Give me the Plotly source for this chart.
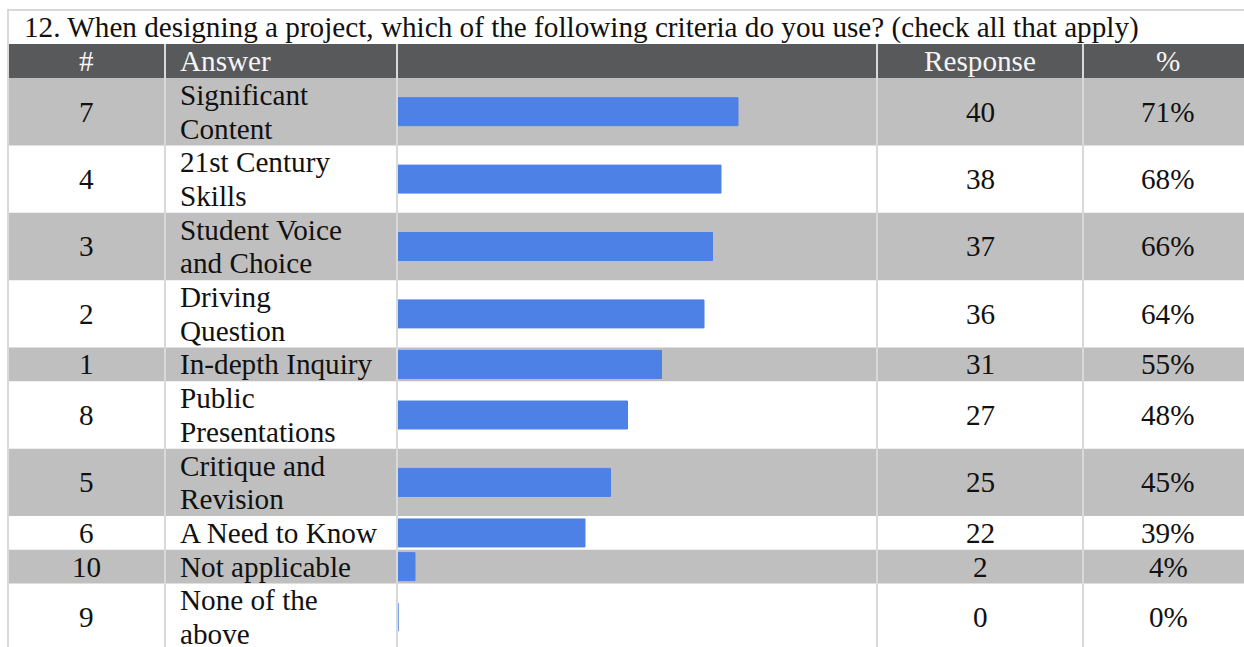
import plotly.graph_objects as go

# ---------------- data ----------------
title_text = "12. When designing a project, which of the following criteria do you use? (check all that apply)"
header_labels = ["#", "Answer", "Response", "%"]
ids = ["7", "4", "3", "2", "1", "8", "5", "6", "10", "9"]
answers = ["Significant<br>Content", "21st Century<br>Skills", "Student Voice<br>and Choice",
           "Driving<br>Question", "In-depth Inquiry", "Public<br>Presentations",
           "Critique and<br>Revision", "A Need to Know", "Not applicable", "None of the<br>above"]
responses = [40, 38, 37, 36, 31, 27, 25, 22, 2, 0]
percents = ["71%", "68%", "66%", "64%", "55%", "48%", "45%", "39%", "4%", "0%"]

# ---------------- layout constants (pixels) ----------------
W, H = 1244, 647
FONT = "Liberation Serif, Times New Roman, serif"
FS = 29.2
GRID = "#d9d9d9"
HEAD_BG = "#58595b"
ROW_BG = "#bfbfbf"
BAR = "#4e81e5"
LINE_H = 33.7
TOP_LINE = 10
HEAD_TOP, HEAD_BOT = 44, 78
COLS = [8, 165, 397, 877, 1083]
X_NUM, X_ANS, X_RESP, X_PCT = 86, 178, 980, 1168
BAR_X0, BAR_X1 = 398, 877
PX_PER_UNIT = 8.5


def px(x):
    return x / W


def py(y):
    return 1 - y / H


shapes = []
annotations = []

# header background
shapes.append(dict(type="rect", xref="paper", yref="paper", x0=px(8), x1=1, y0=py(HEAD_BOT), y1=py(HEAD_TOP),
                   fillcolor=HEAD_BG, line_width=0, layer="below"))

# rows
row_centers = []
y = HEAD_BOT
for i, ans in enumerate(answers):
    lines = ans.split("<br>")
    h = LINE_H * len(lines)
    if i % 2 == 0:
        shapes.append(dict(type="rect", xref="paper", yref="paper", x0=px(8), x1=1, y0=py(y + h), y1=py(y),
                           fillcolor=ROW_BG, line_width=0, layer="below"))
    cy = y + h / 2
    row_centers.append(cy)
    annotations.append(dict(text=ids[i], x=px(X_NUM), y=py(cy), xanchor="center"))
    annotations.append(dict(text=str(responses[i]), x=px(X_RESP), y=py(cy), xanchor="center"))
    annotations.append(dict(text=percents[i], x=px(X_PCT), y=py(cy), xanchor="center"))
    for k, ln in enumerate(lines):
        annotations.append(dict(text=ln, x=px(X_ANS), y=py(y + (k + 0.5) * LINE_H), xanchor="left"))
    y += h

# grid lines
shapes.append(dict(type="line", xref="paper", yref="paper", x0=px(8), x1=1, y0=py(TOP_LINE), y1=py(TOP_LINE),
                   line=dict(color=GRID, width=2), layer="below"))
shapes.append(dict(type="line", xref="paper", yref="paper", x0=px(COLS[0]), x1=px(COLS[0]), y0=0, y1=py(TOP_LINE - 1),
                   line=dict(color=GRID, width=2), layer="below"))
for cx in COLS[1:]:
    shapes.append(dict(type="line", xref="paper", yref="paper", x0=px(cx), x1=px(cx), y0=0, y1=py(HEAD_TOP),
                       line=dict(color=GRID, width=2), layer="below"))

# header texts
hy = (HEAD_TOP + HEAD_BOT) / 2
for lab, hx, anc in zip(header_labels, [X_NUM, X_ANS, X_RESP, X_PCT], ["center", "left", "center", "center"]):
    annotations.append(dict(text=lab, x=px(hx), y=py(hy), xanchor=anc, font=dict(color="#f5f5f5", size=FS, family=FONT)))

# title
annotations.append(dict(text=title_text, x=px(22), y=py((TOP_LINE + HEAD_TOP) / 2 + 1), xanchor="left"))

for a in annotations:
    a.setdefault("xref", "paper")
    a.setdefault("yref", "paper")
    a.setdefault("yanchor", "middle")
    a.setdefault("showarrow", False)
    a.setdefault("font", dict(color="#111111", size=FS, family=FONT))

fig = go.Figure(go.Bar(
    x=responses, y=row_centers, orientation="h", width=28,
    marker=dict(color=BAR, line=dict(color=BAR, width=1)),
    hoverinfo="skip",
))

fig.update_layout(
    width=W, height=H,
    margin=dict(l=0, r=0, t=0, b=0),
    paper_bgcolor="white", plot_bgcolor="rgba(0,0,0,0)",
    showlegend=False,
    xaxis=dict(domain=[px(BAR_X0), px(BAR_X1)], range=[0, (BAR_X1 - BAR_X0) / PX_PER_UNIT],
               visible=False, fixedrange=True),
    yaxis=dict(domain=[0, 1], range=[H, 0], visible=False, fixedrange=True),
    shapes=shapes,
    annotations=annotations,
)

fig.write_html("out.html")
